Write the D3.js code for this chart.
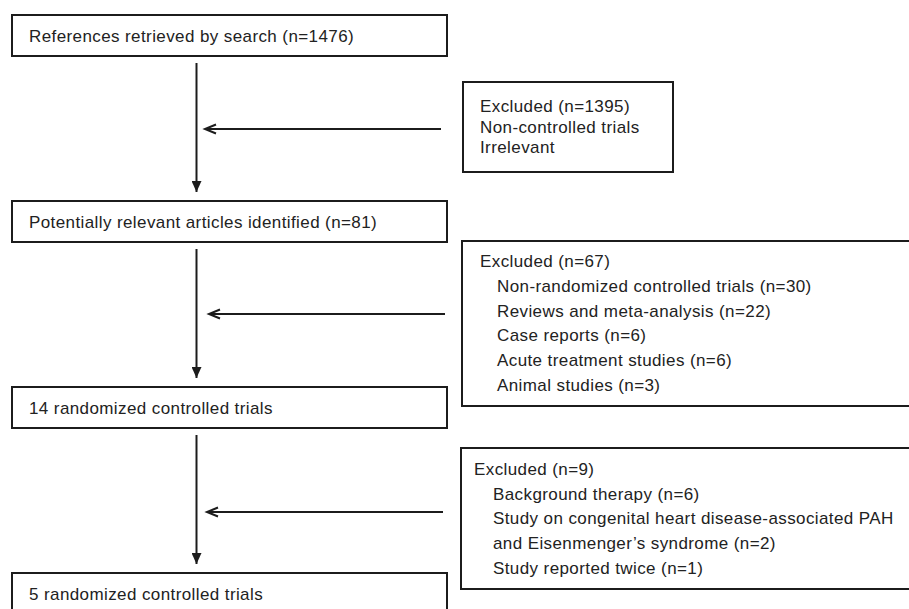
<!DOCTYPE html>
<html>
<head>
<meta charset="utf-8">
<script src="https://cdn.jsdelivr.net/npm/d3@7"></script>
<style>
  body { margin: 0; background: #fff; }
  text { font-family: "Liberation Sans", Arial, sans-serif; font-size: 17px; letter-spacing: 0.4px; fill: #222; }
</style>
</head>
<body>
<svg id="chart" width="909" height="609"></svg>
<script>
// flow stages (main column)
const stages = [
  'References retrieved by search (n=1476)',
  'Potentially relevant articles identified (n=81)',
  '14 randomized controlled trials',
  '5 randomized controlled trials'
];

// exclusion boxes (one for each step)
const exclusionHeads = ['Excluded (n=1395)', 'Excluded (n=67)', 'Excluded (n=9)'];
const exclusionItems = [
  ['Non-controlled trials', 'Irrelevant'],
  [
    'Non-randomized controlled trials (n=30)',
    'Reviews and meta-analysis (n=22)',
    'Case reports (n=6)',
    'Acute treatment studies (n=6)',
    'Animal studies (n=3)'
  ],
  [
    'Background therapy (n=6)',
    'Study on congenital heart disease-associated PAH',
    'and Eisenmenger\u2019s syndrome (n=2)',
    'Study reported twice (n=1)'
  ]
];

// layout
const boxLeft = 12, boxRight = 447, boxH = 41;
const arrowX = 196.5;
const exLayout = [
  { top: 82, bottom: 172, left: 463, right: 673, base: 112, step: 20.5, headX: 480, itemX: 480, arrowY: 129, arrowFrom: 441, arrowTo: 205 },
  { top: 241, bottom: 406, left: 462, right: 925, base: 267, step: 24.8, headX: 480, itemX: 497, arrowY: 314, arrowFrom: 445, arrowTo: 209 },
  { top: 448, bottom: 589, left: 461, right: 925, base: 475, step: 24.7, headX: 474, itemX: 493, arrowY: 512, arrowFrom: 443, arrowTo: 207 }
];

const svg = d3.select('#chart');
const ink = '#1c1c1c';

const y = d3.scaleLinear()
  .domain([0, stages.length - 1])
  .range([15, 573]);

// markers
const defs = svg.append('defs');
defs.append('marker')
  .attr('id', 'tri')
  .attr('viewBox', '0 0 11 10')
  .attr('refX', 11).attr('refY', 5)
  .attr('markerWidth', 11).attr('markerHeight', 10)
  .attr('markerUnits', 'userSpaceOnUse')
  .attr('orient', 'auto')
  .append('path')
  .attr('d', 'M0,0 L11,5 L0,10 Z')
  .style('fill', ink);

//основные блоки
const stageGroup = svg.selectAll('g.stage')
  .data(stages)
  .enter()
  .append('g')
  .classed('stage', true)
  .attr('transform', (d, i) => `translate(0, ${y(i)})`);

stageGroup.append('rect')
  .attr('x', boxLeft)
  .attr('y', 0)
  .attr('width', boxRight - boxLeft)
  .attr('height', boxH)
  .style('fill', '#fff')
  .style('stroke', ink)
  .style('stroke-width', 2);

stageGroup.append('text')
  .attr('x', 29)
  .attr('y', 27)
  .text(d => d);

//вертикальные стрелки
const toPath = d3.line();
svg.selectAll('path.down')
  .data(d3.range(stages.length - 1))
  .enter()
  .append('path')
  .classed('down', true)
  .attr('d', i => toPath([[arrowX, y(i) + boxH + 7], [arrowX, y(i + 1) - 9]]))
  .style('stroke', ink)
  .style('stroke-width', 2)
  .style('fill', 'none')
  .attr('marker-end', 'url(#tri)');

//блоки исключений
const exGroup = svg.selectAll('g.excluded')
  .data(exclusionHeads)
  .enter()
  .append('g')
  .classed('excluded', true);

exGroup.append('rect')
  .attr('x', (d, i) => exLayout[i].left)
  .attr('y', (d, i) => exLayout[i].top)
  .attr('width', (d, i) => exLayout[i].right - exLayout[i].left)
  .attr('height', (d, i) => exLayout[i].bottom - exLayout[i].top)
  .style('fill', '#fff')
  .style('stroke', ink)
  .style('stroke-width', 2);

exGroup.append('text')
  .attr('x', (d, i) => exLayout[i].headX)
  .attr('y', (d, i) => exLayout[i].base)
  .text(d => d);

exGroup.each(function (d, i) {
  const l = exLayout[i];
  d3.select(this).selectAll('text.item')
    .data(exclusionItems[i])
    .enter()
    .append('text')
    .classed('item', true)
    .attr('x', l.itemX)
    .attr('y', (t, j) => l.base + (j + 1) * l.step)
    .text(t => t);
});

//горизонтальные стрелки
const sideArrows = svg.selectAll('g.side')
  .data(exLayout)
  .enter()
  .append('g')
  .classed('side', true);

sideArrows.append('path')
  .attr('d', l => toPath([[l.arrowFrom, l.arrowY], [l.arrowTo + 1, l.arrowY]]))
  .style('stroke', ink)
  .style('stroke-width', 2)
  .style('fill', 'none');

sideArrows.append('path')
  .attr('d', l => toPath([[l.arrowTo + 11, l.arrowY - 4.5], [l.arrowTo, l.arrowY], [l.arrowTo + 11, l.arrowY + 4.5]]))
  .style('stroke', ink)
  .style('stroke-width', 2)
  .style('stroke-linejoin', 'miter')
  .style('fill', 'none');
</script>
</body>
</html>
